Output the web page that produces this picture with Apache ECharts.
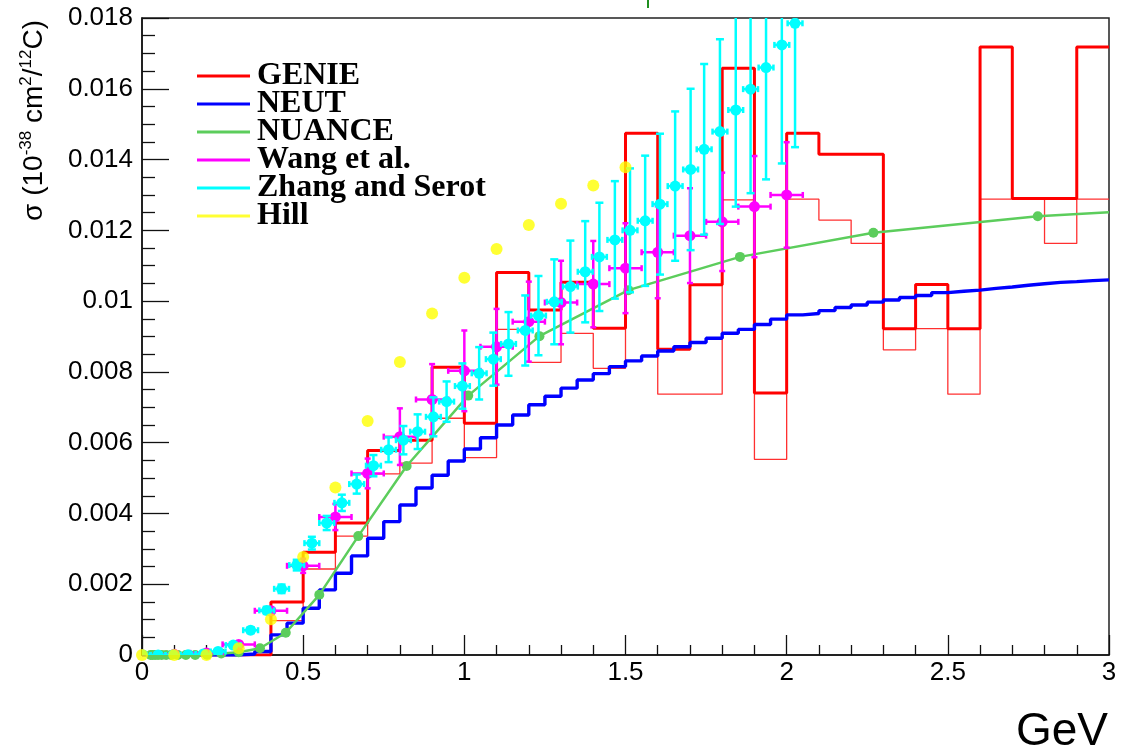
<!DOCTYPE html>
<html><head><meta charset="utf-8">
<script src="https://cdn.jsdelivr.net/npm/echarts@6/dist/echarts.min.js"></script>
<style>html,body{margin:0;padding:0;background:#fff}#c{width:1124px;height:755px}</style>
</head><body><div id="c"></div>
<script>
// ---- GENIE histograms (0.1 GeV bins) ----
const genieEdges = [0,0.1,0.2,0.3,0.4,0.5,0.6,0.7,0.8,0.9,1.0,1.1,1.2,1.3,1.4,1.5,1.6,1.7,1.8,1.9,2.0,2.1,2.2,2.3,2.4,2.5,2.6,2.7,2.8,2.9,3.0];
const genieThick = [0,0,0,0,0.0015,0.0029,0.00373,0.00578,0.00607,0.00813,0.00655,0.01081,0.00975,0.01053,0.00923,0.01474,0.00864,0.01046,0.01658,0.0074,0.01474,0.01415,0.01415,0.00922,0.01047,0.00922,0.01718,0.0129,0.0129,0.01718];
const genieThin  = [0,0,0,0,0.00097,0.00243,0.00336,0.00512,0.00542,0.00669,0.00558,0.0092,0.00827,0.00909,0.0081,0.01474,0.00737,0.00737,0.01286,0.00553,0.01288,0.01229,0.01163,0.00862,0.00922,0.00737,0.01288,0.01288,0.01163,0.01288];

// ---- NEUT histogram (0.05 GeV bins) ----
const neutEdges = [0,0.05,0.1,0.15,0.2,0.25,0.3,0.35,0.4,0.45,0.5,0.55,0.6,0.65,0.7,0.75,0.8,0.85,0.9,0.95,1.0,1.05,1.1,1.15,1.2,1.25,1.3,1.35,1.4,1.45,1.5,1.55,1.6,1.65,1.7,1.75,1.8,1.85,1.9,1.95,2.0,2.05,2.1,2.15,2.2,2.25,2.3,2.35,2.4,2.45,2.5,2.55,2.6,2.65,2.7,2.75,2.8,2.85,2.9,2.95,3.0];
const neutVals = [0,0,0,0,0,0,0.00003,0.0001,0.00057,0.0009,0.00132,0.00184,0.00231,0.0028,0.0033,0.00377,0.00424,0.00472,0.00508,0.00548,0.00582,0.00614,0.0065,0.00678,0.00707,0.00731,0.00754,0.00777,0.00795,0.00815,0.00831,0.00845,0.00859,0.00871,0.00883,0.00895,0.00909,0.0092,0.00934,0.00949,0.00961,0.00965,0.00973,0.00982,0.00989,0.00997,0.01003,0.0101,0.01016,0.01024,0.01028,0.01031,0.01036,0.0104,0.01045,0.01049,0.01053,0.01055,0.01058,0.0106];

// ---- NUANCE curve (marker points) ----
const nuanceX = [0.027,0.033,0.041,0.05,0.061,0.075,0.091,0.111,0.136,0.165,0.202,0.246,0.300,0.366,0.446,0.55,0.671,0.821,1.012,1.233,1.509,1.855,2.269,2.779,3.0];
const nuanceY = [0,0,0,0,0,0,0,0,0,0,0.00001,0.00004,0.00008,0.00019,0.00063,0.0017,0.00336,0.00534,0.00733,0.00901,0.01031,0.01125,0.01193,0.0124,0.01251];

// ---- Wang et al. ----
const wangX = [0.0,0.1,0.2,0.3,0.4,0.5,0.6,0.7,0.8,0.9,1.0,1.1,1.2,1.3,1.4,1.5,1.6,1.7,1.8,1.9,2.0];
const wangY = [0,0.00002,0.00006,0.0003,0.00125,0.00252,0.0039,0.00513,0.00617,0.00722,0.00803,0.00871,0.00942,0.00996,0.01048,0.01093,0.01138,0.01185,0.01224,0.01267,0.013];
const wangYErr = [0,0.00001,0.00002,0.00005,0.0001,0.0002,0.00037,0.00042,0.0008,0.001,0.00114,0.00107,0.00113,0.00118,0.00122,0.00127,0.0013,0.00134,0.00139,0.00143,0.00149];
const wangXErr = [0.05,0.05,0.05,0.05,0.05,0.05,0.05,0.05,0.05,0.05,0.05,0.05,0.05,0.05,0.05,0.05,0.05,0.05,0.05,0.05,0.05];

// ---- Zhang and Serot ----
const zhangX = [0.003,0.05,0.096,0.143,0.19,0.236,0.283,0.337,0.387,0.433,0.48,0.527,0.573,0.62,0.666,0.718,0.765,0.811,0.855,0.904,0.945,0.994,1.046,1.09,1.137,1.189,1.23,1.279,1.329,1.375,1.419,1.467,1.514,1.561,1.607,1.654,1.702,1.744,1.793,1.842,1.888,1.936,1.985,2.026];
const zhangY = [0,0,0,0.00001,0.00003,0.0001,0.00028,0.0007,0.00126,0.00187,0.00254,0.00316,0.00373,0.0043,0.00483,0.00535,0.0058,0.00607,0.00631,0.00673,0.00716,0.0076,0.00796,0.00836,0.00879,0.00917,0.00959,0.00998,0.01041,0.01083,0.01125,0.01173,0.012,0.01227,0.01274,0.01325,0.01372,0.01429,0.01479,0.0154,0.01599,0.0166,0.01724,0.01785];
const zhangYErr = [0,0,0,0.00001,0.00002,0.00003,0.00005,0.00008,0.0001,0.00012,0.00015,0.00018,0.0002,0.00023,0.00027,0.0003,0.00035,0.0004,0.00049,0.00055,0.00057,0.00064,0.00074,0.00075,0.0009,0.00099,0.00112,0.0012,0.0013,0.00143,0.00153,0.00166,0.00175,0.00184,0.00199,0.00211,0.00228,0.00241,0.00261,0.00273,0.00294,0.00316,0.00335,0.0035];
const zhangXErr = 0.023;

// ---- Hill ----
const hillX = [0,0.1,0.2,0.3,0.4,0.5,0.6,0.7,0.8,0.9,1.0,1.1,1.2,1.3,1.4,1.5];
const hillY = [0,0,0,0.00019,0.00101,0.00277,0.00473,0.00661,0.00828,0.00965,0.01066,0.01147,0.01215,0.01275,0.01327,0.01378];

// ---- axis ticks ----
const xTicks = [0,0.5,1,1.5,2,2.5,3];
const yTicks = [0,0.002,0.004,0.006,0.008,0.01,0.012,0.014,0.016,0.018];

function histPoints(edges, vals){
  const pts = vals.map((v,i)=>[edges[i], v]);
  pts.push([edges[edges.length-1], vals[vals.length-1]]);
  return pts;
}

function errSeries(name, color, xs, ys, exs, eys, o){
  return {
    name, type:'custom', itemStyle:{color}, clip:true,
    data: xs.map((x,i)=>[x, ys[i], Array.isArray(exs)?exs[i]:exs, eys[i]]),
    encode:{x:0,y:1},
    renderItem:(params, api)=>{
      const x=api.value(0), y=api.value(1), ex=api.value(2), ey=api.value(3);
      const c=api.coord([x,y]), l=api.coord([x-ex,y]), r=api.coord([x+ex,y]);
      const t=api.coord([x,y+ey]), b=api.coord([x,y-ey]);
      const st={stroke:color, lineWidth:o.lw};
      const ch=[
        {type:'line', shape:{x1:l[0],y1:c[1],x2:r[0],y2:c[1]}, style:st},
        {type:'line', shape:{x1:c[0],y1:t[1],x2:c[0],y2:b[1]}, style:st},
        {type:'line', shape:{x1:l[0],y1:c[1]-o.hcap,x2:l[0],y2:c[1]+o.hcap}, style:st},
        {type:'line', shape:{x1:r[0],y1:c[1]-o.hcap,x2:r[0],y2:c[1]+o.hcap}, style:st},
        {type:'line', shape:{x1:c[0]-o.vcap,y1:t[1],x2:c[0]+o.vcap,y2:t[1]}, style:st},
        {type:'line', shape:{x1:c[0]-o.vcap,y1:b[1],x2:c[0]+o.vcap,y2:b[1]}, style:st},
        {type:'circle', shape:{cx:c[0],cy:c[1],r:o.r}, style:{fill:color}}
      ];
      return {type:'group', children:ch};
    }
  };
}

const chart = echarts.init(document.getElementById('c'), null, {renderer:'canvas'});
const axisCol = '#111';
chart.setOption({
  animation:false,
  backgroundColor:'#fff',
  grid:{left:142, right:15, top:18, bottom:100, show:true, borderColor:'#222', borderWidth:1.5, backgroundColor:'transparent'},
  xAxis:{type:'value', min:0, max:3, interval:0.5,
    axisLine:{lineStyle:{color:axisCol, width:1.5}},
    axisTick:{inside:true, length:20, lineStyle:{color:axisCol, width:1.3}},
    minorTick:{show:true, splitNumber:5, length:10, lineStyle:{color:axisCol, width:1.3}},
    splitLine:{show:false},
    axisLabel:{margin:5, fontSize:26, color:'#000', fontFamily:'Liberation Sans',
      formatter:v=>{const k=xTicks.find(t=>Math.abs(t-v)<1e-9); return k===undefined?'':String(k);}}
  },
  yAxis:{type:'value', min:0, max:0.018, interval:0.002,
    axisLine:{show:true, lineStyle:{color:axisCol, width:1.5}},
    axisTick:{inside:true, length:27, lineStyle:{color:axisCol, width:1.3}},
    minorTick:{show:true, splitNumber:4, length:13, lineStyle:{color:axisCol, width:1.3}},
    splitLine:{show:false},
    axisLabel:{margin:9, fontSize:26, color:'#000', fontFamily:'Liberation Sans',
      formatter:v=>{const k=yTicks.find(t=>Math.abs(t-v)<1e-9); return k===undefined?'':String(k);}}
  },
  legend:{show:true, orient:'vertical', left:192, top:55, itemGap:-4, itemWidth:53, itemHeight:3,
    icon:'rect', selectedMode:false,
    data:['GENIE','NEUT','NUANCE','Wang et al.','Zhang and Serot','Hill'],
    textStyle:{fontFamily:'Liberation Serif', fontWeight:'bold', fontSize:32, lineHeight:28, color:'#000', padding:[0,0,0,2]}
  },
  series:[
    {name:'GENIE thin', type:'line', step:'end', data:histPoints(genieEdges, genieThin), showSymbol:false, symbol:'none',
      lineStyle:{color:'#ff3030', width:1.3}, itemStyle:{color:'#ff3030'}, z:2},
    {name:'GENIE', type:'line', step:'end', data:histPoints(genieEdges, genieThick), showSymbol:false, symbol:'none',
      lineStyle:{color:'#ff0000', width:3}, itemStyle:{color:'#ff0000'}, z:2},
    {name:'NEUT', type:'line', step:'end', data:histPoints(neutEdges, neutVals), showSymbol:false, symbol:'none',
      lineStyle:{color:'#0000ff', width:3.4}, itemStyle:{color:'#0000ff'}, z:3},
    {name:'NUANCE', type:'line', data:nuanceX.map((x,i)=>i===nuanceX.length-1?{value:[x,nuanceY[i]],symbol:'none'}:[x,nuanceY[i]]),
      symbol:'circle', symbolSize:10, showAllSymbol:true,
      lineStyle:{color:'#5ccd5c', width:2.5}, itemStyle:{color:'#5ccd5c'}, z:4},
    Object.assign(errSeries('Wang et al.', '#ff00ff', wangX, wangY, wangXErr, wangYErr, {lw:2.5, hcap:3, vcap:3, r:5.5}), {z:5}),
    Object.assign(errSeries('Zhang and Serot', '#00ffff', zhangX, zhangY, zhangXErr, zhangYErr, {lw:2.5, hcap:3, vcap:4, r:5.5}), {z:6}),
    {name:'Hill', type:'scatter', data:hillX.map((x,i)=>[x,hillY[i]]), symbol:'circle', symbolSize:12,
      itemStyle:{color:'#ffff00'}, z:7}
  ],
  graphic:[
    {type:'text', x:34, y:20, rotation:Math.PI/2,
      style:{text:'{n|σ (10}{s|-38}{n| cm}{s|2}{n|/}{s|12}{n|C)}', align:'right', verticalAlign:'middle',
        rich:{n:{fontSize:28, fontFamily:'Liberation Sans', lineHeight:32, fill:'#000', color:'#000'},
              s:{fontSize:17, fontFamily:'Liberation Sans', lineHeight:18, verticalAlign:'top', fill:'#000', color:'#000'}}}},
    {type:'text', x:1108, y:732, style:{text:'GeV', fontSize:46, fontFamily:'Liberation Sans', align:'right', verticalAlign:'middle', fill:'#000'}},
    {type:'line', shape:{x1:648,y1:0,x2:648,y2:8}, style:{stroke:'#1f8f1f', lineWidth:2}}
  ]
});
</script></body></html>
